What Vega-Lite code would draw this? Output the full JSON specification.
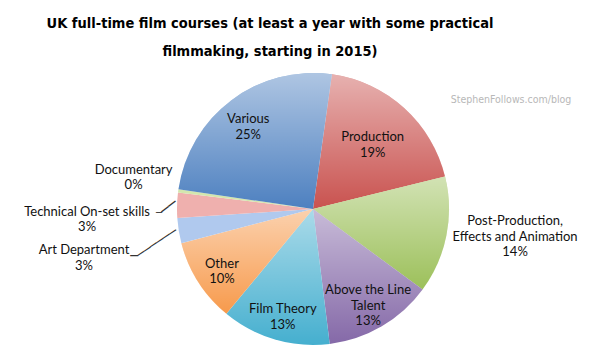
{
  "$schema": "https://vega.github.io/schema/vega-lite/v6.json",
  "width": 574,
  "height": 308,
  "autosize": "none",
  "padding": {"left": 26, "top": 55, "right": 0, "bottom": 0},
  "background": "white",
  "title": {
    "text": ["UK full-time film courses (at least a year with some practical", "filmmaking, starting in 2015)"],
    "font": "DejaVu Sans Condensed, Roboto Condensed, Open Sans Condensed, Roboto",
    "fontWeight": "bold",
    "fontSize": 14.5,
    "lineHeight": 28,
    "color": "#000000",
    "anchor": "middle",
    "dx": -43,
    "offset": -4.5
  },
  "config": {"view": {"stroke": null}},
  "data": {
    "values": [
      {"order": 1, "category": "Production", "label": "Production", "percent": 19},
      {"order": 2, "category": "Post-Production, Effects and Animation", "label": "Post-Production,\nEffects and Animation", "percent": 14},
      {"order": 3, "category": "Above the Line Talent", "label": "Above the Line\nTalent", "percent": 13},
      {"order": 4, "category": "Film Theory", "label": "Film Theory", "percent": 13},
      {"order": 5, "category": "Other", "label": "Other", "percent": 10},
      {"order": 6, "category": "Art Department", "label": "Art Department", "percent": 3},
      {"order": 7, "category": "Technical On-set skills", "label": "Technical On-set skills", "percent": 3},
      {"order": 8, "category": "Documentary", "label": "Documentary", "percent": 0.4},
      {"order": 9, "category": "Various", "label": "Various", "percent": 25}
    ]
  },
  "transform": [
    {"stack": "percent", "groupby": [], "sort": [{"field": "order", "order": "ascending"}], "offset": "normalize", "as": ["t0", "t1"]},
    {"calculate": "(datum.t0 + datum.t1) / 2", "as": "mid"},
    {"calculate": "datum.label + '\\n' + round(datum.percent) + '%'", "as": "text"}
  ],
  "layer": [
    {
      "mark": {"type": "arc", "outerRadius": 136},
      "encoding": {
        "theta": {"field": "t0", "type": "quantitative", "scale": {"domain": [0, 1], "range": [0.1396, 6.4228]}},
        "theta2": {"field": "t1"},
        "color": {
          "field": "category",
          "type": "nominal",
          "legend": null,
          "scale": {
            "domain": ["Production", "Post-Production, Effects and Animation", "Above the Line Talent", "Film Theory", "Other", "Art Department", "Technical On-set skills", "Documentary", "Various"],
            "range": ["#c9524f", "#9cc05a", "#8569a8", "#45afcf", "#f79a4c", "#b0c9ee", "#efb0ae", "#d3e6ae", "#4d80c0"]
          }
        }
      }
    },
    {
      "transform": [{"filter": {"field": "category", "oneOf": ["Production", "Post-Production, Effects and Animation", "Above the Line Talent", "Film Theory", "Other", "Various"]}}],
      "mark": {
        "type": "arc",
        "outerRadius": 136,
        "color": {"gradient": "linear", "x1": 0, "y1": 0, "x2": 0, "y2": 1, "stops": [{"offset": 0, "color": "rgba(255,255,255,0.55)"}, {"offset": 1, "color": "rgba(255,255,255,0)"}]}
      },
      "encoding": {
        "theta": {"field": "t0", "type": "quantitative"},
        "theta2": {"field": "t1"}
      }
    },
    {
      "transform": [{"filter": {"field": "category", "oneOf": ["Film Theory", "Other", "Various"]}}],
      "mark": {"type": "text", "radius": 108, "dy": -3.5, "font": "Lato", "fontSize": 13, "lineHeight": 15.5, "lineBreak": "\n", "color": "#111111", "align": "center", "baseline": "middle"},
      "encoding": {
        "theta": {"field": "mid", "type": "quantitative"},
        "text": {"field": "text"}
      }
    },
    {
      "transform": [{"filter": {"field": "category", "equal": "Production"}}],
      "mark": {"type": "text", "radius": 95, "dx": -4, "dy": -1, "font": "Lato", "fontSize": 13, "lineHeight": 15.5, "lineBreak": "\n", "color": "#111111", "align": "center", "baseline": "middle"},
      "encoding": {
        "theta": {"field": "mid", "type": "quantitative"},
        "text": {"field": "text"}
      }
    },
    {
      "transform": [{"filter": {"field": "category", "equal": "Above the Line Talent"}}],
      "mark": {"type": "text", "radius": 109, "dy": -13, "font": "Lato", "fontSize": 13, "lineHeight": 15.5, "lineBreak": "\n", "color": "#111111", "align": "center", "baseline": "middle"},
      "encoding": {
        "theta": {"field": "mid", "type": "quantitative"},
        "text": {"field": "text"}
      }
    },
    {
      "transform": [{"filter": {"field": "category", "equal": "Post-Production, Effects and Animation"}}],
      "mark": {"type": "text", "radius": 206, "dy": -28, "font": "Lato", "fontSize": 13, "lineHeight": 15.5, "lineBreak": "\n", "color": "#111111", "align": "center", "baseline": "middle"},
      "encoding": {
        "theta": {"field": "mid", "type": "quantitative"},
        "text": {"field": "text"}
      }
    },
    {
      "transform": [{"filter": {"field": "category", "equal": "Documentary"}}],
      "mark": {"type": "text", "radius": 181, "dy": -15, "font": "Lato", "fontSize": 13, "lineHeight": 15.5, "lineBreak": "\n", "color": "#111111", "align": "center", "baseline": "middle"},
      "encoding": {
        "theta": {"field": "mid", "type": "quantitative"},
        "text": {"field": "text"}
      }
    },
    {
      "transform": [{"filter": {"field": "category", "equal": "Technical On-set skills"}}],
      "mark": {"type": "text", "radius": 226, "dy": 9, "font": "Lato", "fontSize": 13, "lineHeight": 15.5, "lineBreak": "\n", "color": "#111111", "align": "center", "baseline": "middle"},
      "encoding": {
        "theta": {"field": "mid", "type": "quantitative"},
        "text": {"field": "text"}
      }
    },
    {
      "transform": [{"filter": {"field": "category", "equal": "Art Department"}}],
      "mark": {"type": "text", "radius": 232, "dy": 4, "font": "Lato", "fontSize": 13, "lineHeight": 15.5, "lineBreak": "\n", "color": "#111111", "align": "center", "baseline": "middle"},
      "encoding": {
        "theta": {"field": "mid", "type": "quantitative"},
        "text": {"field": "text"}
      }
    },
    {
      "transform": [{"filter": {"field": "category", "equal": "Art Department"}}],
      "mark": {"type": "text", "text": "──────", "angle": -34, "radius": 160, "dx": -3.1, "dy": 8, "font": "DejaVu Sans", "fontSize": 12.8, "color": "#333333", "align": "center", "baseline": "middle"},
      "encoding": {"theta": {"field": "mid", "type": "quantitative"}}
    },
    {
      "transform": [{"filter": {"field": "category", "equal": "Art Department"}}],
      "mark": {"type": "text", "text": "─", "radius": 180, "dx": -1.3, "dy": 18.2, "font": "DejaVu Sans", "fontSize": 12.8, "color": "#333333", "align": "center", "baseline": "middle"},
      "encoding": {"theta": {"field": "mid", "type": "quantitative"}}
    },
    {
      "transform": [{"filter": {"field": "category", "equal": "Technical On-set skills"}}],
      "mark": {"type": "text", "text": "──", "angle": -38, "radius": 144, "dx": -1.4, "dy": 1.8, "font": "DejaVu Sans", "fontSize": 14.8, "color": "#333333", "align": "center", "baseline": "middle"},
      "encoding": {"theta": {"field": "mid", "type": "quantitative"}}
    },
    {
      "transform": [{"filter": {"field": "category", "equal": "Technical On-set skills"}}],
      "mark": {"type": "text", "text": "─", "radius": 154, "dy": 8.3, "font": "DejaVu Sans", "fontSize": 10, "color": "#333333", "align": "center", "baseline": "middle"},
      "encoding": {"theta": {"field": "mid", "type": "quantitative"}}
    },
    {
      "data": {"values": [{"note": "StephenFollows.com/blog"}]},
      "mark": {"type": "text", "x": 485, "y": 45, "font": "DejaVu Sans Condensed, Roboto Condensed, Lato", "fontSize": 10.5, "color": "#b8b8b8", "align": "center", "baseline": "middle"},
      "encoding": {"text": {"field": "note"}}
    }
  ]
}
